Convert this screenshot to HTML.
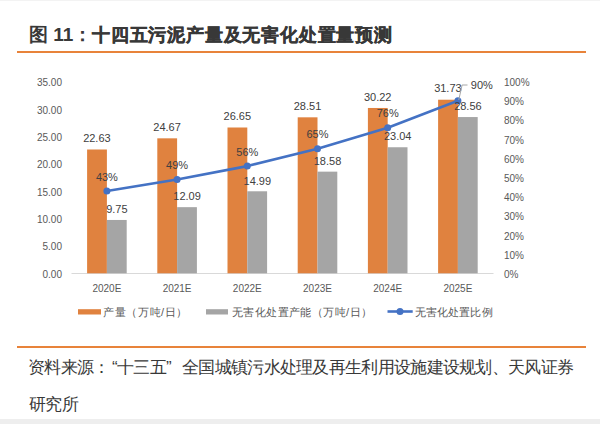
<!DOCTYPE html>
<html><head><meta charset="utf-8">
<style>
html,body{margin:0;padding:0;}
body{width:600px;height:424px;background:#fff;position:relative;overflow:hidden;font-family:"Liberation Sans",sans-serif;}
.title{position:absolute;left:29px;top:21px;font-size:18.2px;font-weight:bold;color:#383838;white-space:nowrap;line-height:28px;}
.hr{position:absolute;left:17px;width:569px;height:2px;background:#e8833a;}
.src{position:absolute;font-size:17px;letter-spacing:-0.7px;color:#383838;white-space:nowrap;line-height:20px;}
.band{position:absolute;left:0;top:419px;width:600px;height:5px;background:#eeeeee;}
svg{position:absolute;left:0;top:0;}
.ax{font-size:10px;fill:#595959;}
.dl{font-size:11px;fill:#404040;}
.lg{font-size:11px;fill:#595959;}
</style></head><body>
<div class="title" style="left:29px;font-size:19px">图 11：</div><div class="title" style="left:92px;top:20.5px;font-size:18px;letter-spacing:0.8px;font-weight:900;-webkit-text-stroke:0.4px #383838">十四五污泥产量及无害化处置量预测</div>
<div class="hr" style="top:51px"></div>
<svg width="600" height="424" viewBox="0 0 600 424">
<line x1="71.5" y1="273.5" x2="493.5" y2="273.5" stroke="#d9d9d9" stroke-width="1"/>
<text x="62" y="277.6" text-anchor="end" class="ax">0.00</text>
<text x="62" y="250.2" text-anchor="end" class="ax">5.00</text>
<text x="62" y="222.9" text-anchor="end" class="ax">10.00</text>
<text x="62" y="195.5" text-anchor="end" class="ax">15.00</text>
<text x="62" y="168.2" text-anchor="end" class="ax">20.00</text>
<text x="62" y="140.8" text-anchor="end" class="ax">25.00</text>
<text x="62" y="113.5" text-anchor="end" class="ax">30.00</text>
<text x="62" y="86.1" text-anchor="end" class="ax">35.00</text>
<text x="504" y="277.9" class="ax">0%</text>
<text x="504" y="258.7" class="ax">10%</text>
<text x="504" y="239.5" class="ax">20%</text>
<text x="504" y="220.3" class="ax">30%</text>
<text x="504" y="201.1" class="ax">40%</text>
<text x="504" y="181.9" class="ax">50%</text>
<text x="504" y="162.7" class="ax">60%</text>
<text x="504" y="143.5" class="ax">70%</text>
<text x="504" y="124.3" class="ax">80%</text>
<text x="504" y="105.1" class="ax">90%</text>
<text x="504" y="85.9" class="ax">100%</text>
<rect x="87.10" y="149.49" width="19.8" height="123.81" fill="#e0823f"/>
<rect x="106.90" y="219.96" width="19.8" height="53.34" fill="#a5a5a5"/>
<rect x="157.30" y="138.33" width="19.8" height="134.97" fill="#e0823f"/>
<rect x="177.10" y="207.16" width="19.8" height="66.14" fill="#a5a5a5"/>
<rect x="227.50" y="127.50" width="19.8" height="145.80" fill="#e0823f"/>
<rect x="247.30" y="191.29" width="19.8" height="82.01" fill="#a5a5a5"/>
<rect x="297.70" y="117.32" width="19.8" height="155.98" fill="#e0823f"/>
<rect x="317.50" y="171.65" width="19.8" height="101.65" fill="#a5a5a5"/>
<rect x="367.90" y="107.97" width="19.8" height="165.33" fill="#e0823f"/>
<rect x="387.70" y="147.25" width="19.8" height="126.05" fill="#a5a5a5"/>
<rect x="438.10" y="99.71" width="19.8" height="173.59" fill="#e0823f"/>
<rect x="457.90" y="117.05" width="19.8" height="156.25" fill="#a5a5a5"/>
<text x="106.9" y="292.3" text-anchor="middle" class="ax">2020E</text>
<text x="177.1" y="292.3" text-anchor="middle" class="ax">2021E</text>
<text x="247.3" y="292.3" text-anchor="middle" class="ax">2022E</text>
<text x="317.5" y="292.3" text-anchor="middle" class="ax">2023E</text>
<text x="387.7" y="292.3" text-anchor="middle" class="ax">2024E</text>
<text x="457.9" y="292.3" text-anchor="middle" class="ax">2025E</text>
<polyline points="106.9,191.0 177.1,179.5 247.3,166.1 317.5,148.8 387.7,127.7 457.9,100.8" fill="none" stroke="#4472c4" stroke-width="2.6" stroke-linejoin="round"/>
<circle cx="106.9" cy="191.0" r="3.5" fill="#4472c4"/>
<circle cx="177.1" cy="179.5" r="3.5" fill="#4472c4"/>
<circle cx="247.3" cy="166.1" r="3.5" fill="#4472c4"/>
<circle cx="317.5" cy="148.8" r="3.5" fill="#4472c4"/>
<circle cx="387.7" cy="127.7" r="3.5" fill="#4472c4"/>
<circle cx="457.9" cy="100.8" r="3.5" fill="#4472c4"/>
<text x="96.9" y="142.2" text-anchor="middle" class="dl">22.63</text>
<text x="116.9" y="213.2" text-anchor="middle" class="dl">9.75</text>
<text x="106.9" y="180.6" text-anchor="middle" class="dl">43%</text>
<text x="167.1" y="131.0" text-anchor="middle" class="dl">24.67</text>
<text x="187.1" y="200.4" text-anchor="middle" class="dl">12.09</text>
<text x="177.1" y="169.1" text-anchor="middle" class="dl">49%</text>
<text x="237.3" y="120.2" text-anchor="middle" class="dl">26.65</text>
<text x="257.3" y="184.5" text-anchor="middle" class="dl">14.99</text>
<text x="247.3" y="155.7" text-anchor="middle" class="dl">56%</text>
<text x="307.5" y="110.0" text-anchor="middle" class="dl">28.51</text>
<text x="327.5" y="164.8" text-anchor="middle" class="dl">18.58</text>
<text x="317.5" y="138.4" text-anchor="middle" class="dl">65%</text>
<text x="377.7" y="100.7" text-anchor="middle" class="dl">30.22</text>
<text x="397.7" y="140.4" text-anchor="middle" class="dl">23.04</text>
<text x="387.7" y="117.3" text-anchor="middle" class="dl">76%</text>
<text x="447.9" y="92.4" text-anchor="middle" class="dl">31.73</text>
<text x="467.9" y="110.2" text-anchor="middle" class="dl">28.56</text>
<polyline points="458.75,100 462.1,85 467.5,85" fill="none" stroke="#a6a6a6" stroke-width="1"/>
<text x="470.8" y="88.8" class="dl">90%</text>
<rect x="78" y="309.2" width="23" height="5.3" fill="#e0823f"/>
<text x="103.3" y="316" class="lg" textLength="84" lengthAdjust="spacing">产量（万吨/日）</text>
<rect x="206" y="309.2" width="22" height="5.3" fill="#a5a5a5"/>
<text x="232" y="316" class="lg" textLength="140" lengthAdjust="spacing">无害化处置产能（万吨/日）</text>
<line x1="387.5" y1="311.5" x2="412.7" y2="311.5" stroke="#4472c4" stroke-width="2.6"/>
<circle cx="400" cy="311.5" r="3.5" fill="#4472c4"/>
<text x="415" y="316" class="lg" textLength="77.5" lengthAdjust="spacing">无害化处置比例</text>
</svg>
<div class="hr" style="top:346px"></div>
<div class="src" style="left:28px;top:357.5px">资料来源：</div>
<div class="src" style="left:112px;top:357.5px">“</div>
<div class="src" style="left:117px;top:357.5px">十三五”</div>
<div class="src" style="left:182px;top:357.5px">全国城镇污水处理及再生利用设施建设规划、天风证券</div>
<div class="src" style="left:29px;top:395px">研究所</div>
<div class="band"></div>
<div style="position:absolute;left:0;top:0;width:600px;height:1px;background:#f3f3f3"></div>
</body></html>
